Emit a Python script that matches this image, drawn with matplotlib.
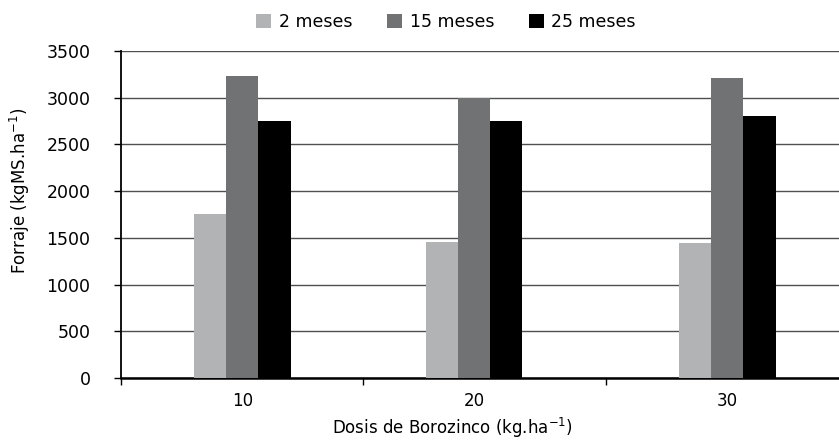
import numpy as np
import matplotlib
matplotlib.use("Agg")
import matplotlib.pyplot as plt

# data
doses = ["10", "20", "30"]
dose_pos = [0, 0.956, 2.0]   # the middle group sits a bit left of its slot in the original
series = ["2 meses", "15 meses", "25 meses"]
meses_2 = [1750, 1460, 1440]
meses_15 = [3235, 3000, 3215]
meses_25 = [2750, 2750, 2805]
colors = ["#b2b3b5", "#717274", "#000000"]

plt.rcParams["font.family"] = ["DejaVu Sans"]
plt.rcParams["mathtext.default"] = "regular"

fig = plt.figure(figsize=(8.39, 4.42), dpi=100)
ax = fig.add_axes([121 / 839, 64 / 442, 718 / 839, 327 / 442])

x = np.array(dose_pos)
width = 0.133
for i, (name, vals) in enumerate(zip(series, [meses_2, meses_15, meses_25])):
    ax.bar(x + (i - 1) * width, vals, width, color=colors[i], label=name, zorder=3)

ax.set_ylim(0, 3500)
ax.set_yticks(range(0, 3501, 500))
ax.set_xlim(-0.5, 2.461)
ax.set_xticks(x)
ax.set_xticklabels(doses)
ax.set_xticks([-0.5, 0.5, 1.5], minor=True)
ax.tick_params(axis="x", which="major", length=0, labelsize=12, pad=10)
ax.tick_params(axis="x", which="minor", length=5, width=1, color="black")
ax.tick_params(axis="y", length=5, width=1, labelsize=12.5, color="black", pad=17)

ax.grid(axis="y", color="#4f4f4f", linewidth=1.0, zorder=0)
for s in ["top", "right"]:
    ax.spines[s].set_visible(False)
ax.spines["left"].set_linewidth(1.3)
ax.spines["bottom"].set_linewidth(1.8)

ax.set_ylabel("Forraje (kgMS.ha$^{-1}$)", fontsize=12)
ax.yaxis.set_label_coords(-0.124, 0.572)
ax.set_xlabel("Dosis de Borozinco (kg.ha$^{-1}$)", fontsize=12)
ax.xaxis.set_label_coords(0.461, -0.116)

ax.legend(loc="center", bbox_to_anchor=(446 / 839, 1 - 22 / 442),
          bbox_transform=fig.transFigure, ncol=3, frameon=False,
          fontsize=12.5, handlelength=0.85, handleheight=0.85, handletextpad=0.45,
          columnspacing=2.0, borderpad=0)

fig.savefig("out.png", dpi=100)
